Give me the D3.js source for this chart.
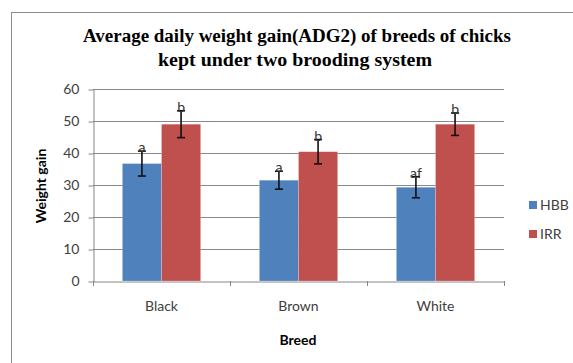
<!DOCTYPE html>
<html>
<head>
<meta charset="utf-8">
<script src="https://cdn.jsdelivr.net/npm/d3@7"></script>
<style>
  body { margin: 0; background: #fff; }
  svg text { font-family: Lato, "Open Sans", sans-serif; }
</style>
</head>
<body>
<svg></svg>
<script>
var width = 573;
var height = 363;

// data
var breeds = ['Black', 'Brown', 'White'];
var seriesNames = ['HBB', 'IRR'];
var hbb = [36.7, 31.5, 29.3];
var irr = [49.0, 40.4, 49.0];
var hbbErr = [3.9, 2.8, 3.3];
var irrErr = [4.2, 3.8, 3.5];
var hbbLetters = ['a', 'a', 'af'];
var irrLetters = ['b', 'b', 'b'];
var yTicks = [0, 10, 20, 30, 40, 50, 60];
var colors = ['#4F81BD', '#C0504D'];

var rows = breeds.map(function(b, i) {
    return [
        {breed: b, key: 'HBB', v: hbb[i], e: hbbErr[i], lab: hbbLetters[i]},
        {breed: b, key: 'IRR', v: irr[i], e: irrErr[i], lab: irrLetters[i]}
    ];
});

var svg = d3.select('svg')
    .attr("width", width)
    .attr("height", height);

// outer frame
svg.append('rect')
    .attr("x", 11.5)
    .attr("y", 12.5)
    .attr("width", 620)
    .attr("height", 400)
    .attr("fill", 'none')
    .attr("stroke", '#8c8c8c')
    .attr("stroke-width", 1);

var plotLeft = 93, plotRight = 504, plotTop = 89, plotBottom = 281;

var x = d3.scaleBand().domain(breeds).range([plotLeft, plotRight]).paddingInner(0).paddingOuter(0);
var x1 = d3.scaleBand().domain(seriesNames).range([0, x.bandwidth()]).paddingInner(0).paddingOuter(0.75);
var y = d3.scaleLinear().domain([0, 60]).range([plotBottom, plotTop]);

// gridlines
svg.append('g')
    .selectAll('line')
    .data(yTicks.slice(1))
    .enter().append('line')
    .attr("x1", plotLeft)
    .attr("x2", plotRight)
    .attr("y1", function(d) { return Math.round(y(d)) + 0.5; })
    .attr("y2", function(d) { return Math.round(y(d)) + 0.5; })
    .attr("stroke", '#8a8a8a')
    .attr("stroke-width", 1);

// y axis
var yAxis = svg.append('g')
    .attr("transform", "translate(" + (plotLeft + 0.5) + ",0.5)")
    .call(d3.axisLeft(y).tickValues(yTicks).tickSize(5).tickSizeOuter(0));
yAxis.select('.domain').attr("stroke", '#868686');
yAxis.selectAll('.tick line').attr("stroke", '#868686');
yAxis.selectAll('.tick text')
    .attr("font-size", 14)
    .attr("fill", '#404040')
    .attr("x", -14)
    .style("font-family", 'Lato, sans-serif');

// x axis
var xAxis = svg.append('g')
    .attr("transform", "translate(0," + (plotBottom + 0.5) + ")")
    .call(d3.axisBottom(x).tickSize(0));
xAxis.select('.domain').attr("stroke", '#868686');
xAxis.selectAll('.tick text')
    .attr("font-size", 14)
    .attr("fill", '#404040')
    .attr("y", 20)
    .style("font-family", 'Lato, sans-serif');
// category boundary ticks
svg.append('g')
    .selectAll('line')
    .data(breeds.concat(['end']))
    .enter().append('line')
    .attr("x1", function(d, i) { return Math.round(i < breeds.length ? x(d) : plotRight) + 0.5; })
    .attr("x2", function(d, i) { return Math.round(i < breeds.length ? x(d) : plotRight) + 0.5; })
    .attr("y1", plotBottom)
    .attr("y2", plotBottom + 5)
    .attr("stroke", '#868686');

// bars
var groups = svg.append('g')
    .selectAll('g')
    .data(rows)
    .enter().append('g')
    .attr("transform", function(d, i) { return "translate(" + x(breeds[i]) + ",0)"; });

groups.selectAll('rect')
    .data(function(d) { return d; })
    .enter().append('rect')
    .attr("x", function(d) { return x1(d.key); })
    .attr("y", function(d) { return y(d.v); })
    .attr("width", x1.bandwidth())
    .attr("height", function(d) { return y(0) - y(d.v); })
    .attr("fill", function(d, i) { return colors[i]; })
    .attr("stroke", '#ffffff')
    .attr("stroke-opacity", 0.35)
    .attr("stroke-width", 0.6);

// error bars
var eb = groups.selectAll('g.err')
    .data(function(d) { return d; })
    .enter().append('g')
    .attr("class", 'err');

eb.append('line')
    .attr("x1", function(d) { return x1(d.key) + x1.bandwidth() / 2; })
    .attr("x2", function(d) { return x1(d.key) + x1.bandwidth() / 2; })
    .attr("y1", function(d) { return y(d.v + d.e); })
    .attr("y2", function(d) { return y(d.v - d.e); })
    .attr("stroke", '#111')
    .attr("stroke-width", 1.6);

[1, -1].forEach(function(s) {
    eb.append('line')
        .attr("x1", function(d) { return x1(d.key) + x1.bandwidth() / 2 - 4; })
        .attr("x2", function(d) { return x1(d.key) + x1.bandwidth() / 2 + 4; })
        .attr("y1", function(d) { return y(d.v + s * d.e); })
        .attr("y2", function(d) { return y(d.v + s * d.e); })
        .attr("stroke", '#111')
        .attr("stroke-width", 1.6);
});

// significance letters
eb.append('text')
    .attr("x", function(d) { return x1(d.key) + x1.bandwidth() / 2; })
    .attr("y", function(d) { return y(d.v + d.e) + 1; })
    .attr("text-anchor", 'middle')
    .attr("font-size", 14)
    .attr("fill", '#333')
    .text(function(d) { return d.lab; });

// title
var title = svg.append('text')
    .attr("text-anchor", 'middle')
    .attr("font-weight", 'bold')
    .attr("font-size", 18)
    .attr("fill", '#000')
    .style("font-family", '"Liberation Serif", "Times New Roman", serif');
title.append('tspan').attr("x", 297).attr("y", 42)
    .attr("textLength", 428).attr("lengthAdjust", 'spacingAndGlyphs')
    .text('Average daily weight gain(ADG2) of breeds of chicks');
title.append('tspan').attr("x", 295).attr("y", 66)
    .attr("textLength", 274).attr("lengthAdjust", 'spacingAndGlyphs')
    .text('kept under two brooding system');

// axis titles
svg.append('text')
    .attr("x", 298)
    .attr("y", 345)
    .attr("text-anchor", 'middle')
    .attr("font-weight", 'bold')
    .attr("font-size", 14)
    .attr("fill", '#000')
    .text('Breed');

svg.append('text')
    .attr("transform", "translate(46,186) rotate(-90)")
    .attr("text-anchor", 'middle')
    .attr("font-weight", 'bold')
    .attr("font-size", 14)
    .attr("fill", '#000')
    .text('Weight gain');

// legend
var legend = svg.append('g')
    .selectAll('g')
    .data(seriesNames)
    .enter().append('g')
    .attr("transform", function(d, i) { return "translate(529," + (201 + i * 29) + ")"; });
legend.append('rect')
    .attr("width", 8)
    .attr("height", 8)
    .attr("fill", function(d, i) { return colors[i]; });
legend.append('text')
    .attr("x", 11)
    .attr("y", 9)
    .attr("font-size", 14)
    .attr("fill", '#404040')
    .text(function(d) { return d; });
</script>
</body>
</html>
